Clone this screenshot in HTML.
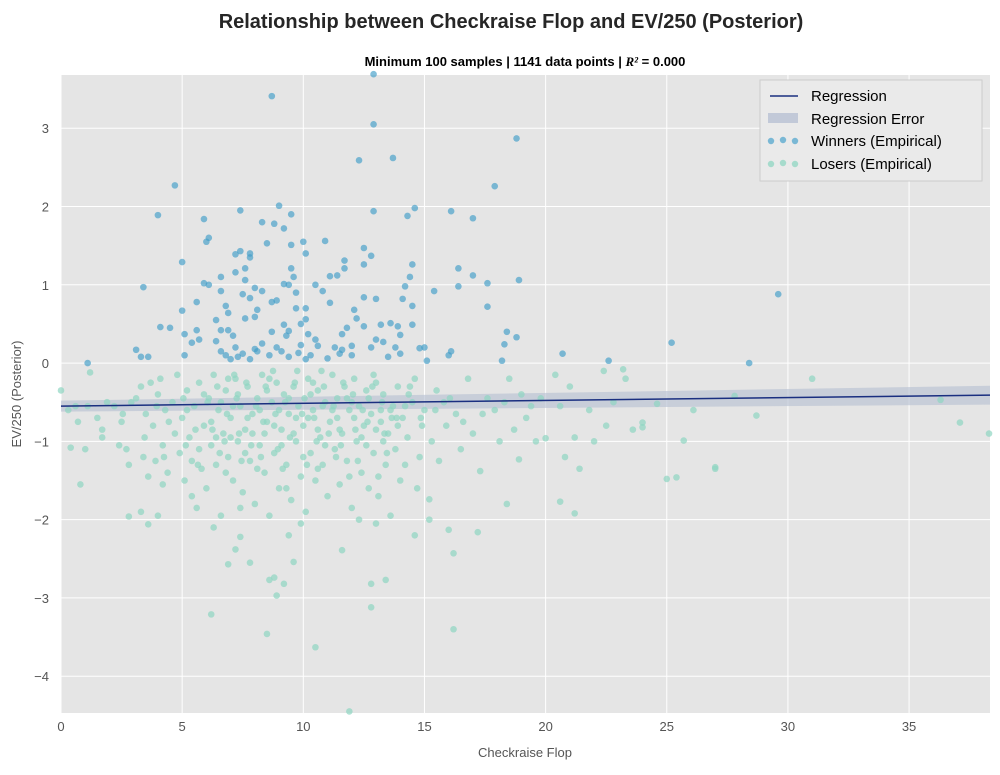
<!DOCTYPE html>
<html><head><meta charset="utf-8"><style>
body{margin:0;background:#fff;font-family:"Liberation Sans",sans-serif}
svg text{font-family:"Liberation Sans","DejaVu Sans",sans-serif}
</style></head><body>
<svg id="chart" width="1000" height="770" xmlns="http://www.w3.org/2000/svg">
<text x="511" y="28" text-anchor="middle" font-size="20" font-weight="bold" fill="#262626">Relationship between Checkraise Flop and EV/250 (Posterior)</text>
<text x="525" y="66" text-anchor="middle" font-size="13" font-weight="bold" fill="#000">Minimum 100 samples | 1141 data points | <tspan font-style="italic" font-family="Liberation Serif">R²</tspan>  =  0.000</text>
<rect x="61" y="75" width="929" height="638" fill="#e5e5e5"/>
<g id="grid"></g><g id="band"></g><g id="losers"></g><g id="winners"></g><g id="reg"></g><g id="ticks"></g>
<text x="525" y="757" text-anchor="middle" font-size="13" fill="#555">Checkraise Flop</text>
<text transform="translate(21,394) rotate(-90)" text-anchor="middle" font-size="13" fill="#555">EV/250 (Posterior)</text>
<g>
<rect x="760" y="80" width="222" height="101" fill="#eaeaea" stroke="#ccc"/>
<line x1="770" y1="96" x2="798" y2="96" stroke="#1a2f80" stroke-width="1.5"/>
<text x="811" y="101" font-size="15" fill="#000">Regression</text>
<rect x="768" y="113" width="30" height="10" fill="#b8c1d3" opacity="0.8"/>
<text x="811" y="124" font-size="15" fill="#000">Regression Error</text>
<circle cx="771" cy="141" r="3.2" fill="#4aa3cc" opacity="0.7"/><circle cx="783" cy="140" r="3.2" fill="#4aa3cc" opacity="0.7"/><circle cx="795" cy="141" r="3.2" fill="#4aa3cc" opacity="0.7"/>
<text x="811" y="146" font-size="15" fill="#000">Winners (Empirical)</text>
<circle cx="771" cy="164" r="3.2" fill="#8fd6c2" opacity="0.75"/><circle cx="783" cy="163" r="3.2" fill="#8fd6c2" opacity="0.75"/><circle cx="795" cy="164" r="3.2" fill="#8fd6c2" opacity="0.75"/>
<text x="811" y="169" font-size="15" fill="#000">Losers (Empirical)</text>
</g>
</svg>
<script>
const xTicks=[0,5,10,15,20,25,30,35];
const yTicks=[-4,-3,-2,-1,0,1,2,3];
const regStart=[0,-0.55], regEnd=[38.34,-0.41];
const bandHalfStart=0.07, bandHalfEnd=0.12;
const winX=[1.1,3.4,3.1,3.3,3.6,4.0,4.1,4.5,4.7,5.0,5.0,5.1,5.1,5.4,5.6,5.6,5.9,6.0,6.1,5.9,6.1,5.7,6.6,6.6,6.4,6.6,6.8,6.9,7.2,7.2,7.4,7.4,7.6,7.6,7.5,7.8,7.8,7.6,7.8,8.0,8.0,8.1,8.3,8.3,8.8,8.5,8.7,8.9,8.7,9.0,9.2,9.5,9.5,9.5,9.6,9.2,9.4,9.7,9.7,9.2,9.4,9.9,10.0,10.1,10.1,10.1,10.2,10.5,10.8,10.9,11.1,11.1,11.4,11.7,11.7,11.6,11.6,12.1,12.2,12.3,12.5,12.5,12.5,12.5,12.8,12.9,12.9,12.9,13.0,13.2,13.3,13.7,13.6,13.9,14.0,14.1,14.2,14.3,14.4,14.5,14.6,14.5,14.5,14.8,15.1,15.4,16.1,16.1,16.4,16.4,17.0,17.0,17.6,17.6,17.9,18.2,18.4,18.3,18.8,18.9,18.8,20.7,22.6,25.2,28.4,29.6,
6.6,6.8,7.0,7.2,7.5,7.8,8.0,8.3,8.6,8.9,9.1,9.4,9.8,10.3,10.6,11.0,11.3,12.0,12.8,13.5,14.0,6.4,7.1,8.7,9.9,10.5,11.8,13.0,12.0,9.3,8.1,7.3,6.9,10.1,11.5,15.0,13.8,16.0];
const winY=[0,0.97,0.17,0.08,0.08,1.89,0.46,0.45,2.27,1.29,0.67,0.37,0.1,0.26,0.78,0.42,1.84,1.55,1.6,1.02,1.0,0.3,1.1,0.92,0.55,0.42,0.73,0.64,1.39,1.16,1.95,1.43,1.21,1.06,0.88,1.4,1.35,0.57,0.83,0.59,0.96,0.68,0.92,1.8,1.78,1.53,3.41,0.8,0.78,2.01,1.72,1.9,1.51,1.21,1.1,1.01,1.0,0.9,0.7,0.49,0.41,0.23,1.55,1.4,0.7,0.56,0.37,1.0,0.92,1.56,1.11,0.77,1.12,1.21,1.31,0.37,0.17,0.68,0.57,2.59,1.26,1.47,0.84,0.47,1.37,3.69,3.05,1.94,0.82,0.49,0.27,2.62,0.51,0.47,0.36,0.82,0.98,1.88,1.1,1.26,1.98,0.73,0.49,0.19,0.03,0.92,1.94,0.15,1.21,0.98,1.85,1.12,1.02,0.72,2.26,0.03,0.4,0.24,2.87,1.06,0.33,0.12,0.03,0.26,0.0,0.88,
0.15,0.1,0.05,0.2,0.12,0.05,0.18,0.25,0.1,0.2,0.15,0.08,0.13,0.1,0.22,0.06,0.2,0.1,0.2,0.08,0.12,0.28,0.35,0.4,0.5,0.3,0.45,0.3,0.22,0.35,0.15,0.08,0.42,0.05,0.12,0.2,0.2,0.1];
const loseX=[0,0.4,0.8,1.2,2.8,3.3,3.6,4.0,4.2,6.2,6.3,6.9,7.2,7.4,7.8,8.5,8.8,8.6,8.9,9.2,9.4,9.6,10.5,11.6,11.9,12.8,12.8,13.4,13.0,16.2,16.2,17.2,14.6,15.2,15.2,16.0,18.4,20.6,21.2,21.4,20.8,20.0,19.6,22.0,22.5,21.8,21.2,21.0,20.4,22.4,23.2,23.3,22.8,23.6,24.0,24.0,24.6,25.0,25.4,25.7,26.1,27.0,27.0,27.8,28.7,31.0,36.3,37.1,38.3,20.6,19.2,18.9,19.0,18.5,17.9,17.6,17.3,18.1,17.0,16.8,16.5,16.3,15.6,15.9,15.5,15.0,14.7,14.4,14.2,
0.3,0.6,0.7,1.0,1.1,1.5,1.7,1.7,1.9,2.2,2.4,2.5,2.7,2.8,2.9,3.1,3.3,3.4,3.5,3.6,3.7,3.8,3.9,4.0,4.1,4.2,4.3,4.4,4.6,4.7,4.8,4.9,5.0,5.1,5.2,5.3,5.4,5.5,5.6,5.7,5.8,5.9,6.0,6.1,6.2,6.3,6.4,6.5,6.6,6.7,6.8,6.9,7.0,7.1,7.2,7.3,7.4,7.5,7.6,7.7,7.8,7.9,8.0,8.1,8.2,8.3,8.4,8.5,8.6,8.7,8.8,8.9,9.0,9.1,9.2,9.3,9.4,9.5,9.6,9.7,9.8,9.9,10.0,10.1,10.2,10.3,10.4,10.5,10.6,10.7,10.8,10.9,11.0,11.1,11.2,11.3,11.4,11.5,11.6,11.7,11.8,11.9,12.0,12.1,12.2,12.3,12.4,12.5,12.6,12.7,12.8,12.9,13.0,13.1,13.2,13.3,13.4,13.5,13.6,13.7,13.8,13.9,14.0,14.1,14.3,14.5,14.8,14.9,15.3,15.8,16.6,17.4,18.3,18.7,19.4,19.8,
5.2,5.7,6.2,6.6,7.0,7.3,7.6,7.9,8.2,8.5,8.8,9.1,9.4,9.7,10.0,10.3,10.6,10.9,11.2,11.5,11.8,12.1,12.4,12.7,13.0,13.3,13.6,13.9,14.2,6.4,7.1,7.7,8.4,9.0,9.6,10.2,10.8,11.4,12.0,12.6,13.2,5.9,6.8,8.1,9.3,10.6,11.9,13.1,7.4,9.9,12.3,5.4,6.9,8.6,10.4,12.9,14.6,
6.05,6.45,6.85,7.25,7.65,8.05,8.45,8.85,9.25,9.65,10.05,10.45,10.85,11.25,11.65,12.05,12.45,12.85,13.25,13.65,6.25,6.75,7.35,7.85,8.35,8.95,9.45,9.95,10.55,11.05,11.55,12.15,12.65,13.35,13.85,5.05,5.55,4.45,3.95,3.45,2.55,14.35,14.85,15.45,16.05,4.25,5.15,5.65,6.55,7.45,8.25,9.15,10.15,11.35,12.25,13.45,9.75,8.75,7.15,10.75];
const loseY=[-0.35,-1.08,-1.55,-0.12,-1.96,-1.9,-2.06,-1.95,-1.55,-3.21,-2.1,-2.57,-2.38,-2.22,-2.55,-3.46,-2.74,-2.77,-2.97,-2.82,-2.2,-2.54,-3.63,-2.39,-4.45,-2.82,-3.12,-2.77,-2.05,-3.4,-2.43,-2.16,-2.2,-1.74,-2.0,-2.13,-1.8,-1.77,-1.92,-1.35,-1.2,-0.96,-1.0,-1.0,-0.8,-0.6,-0.95,-0.3,-0.15,-0.1,-0.08,-0.2,-0.5,-0.85,-0.76,-0.82,-0.52,-1.48,-1.46,-0.99,-0.6,-1.33,-1.35,-0.42,-0.67,-0.2,-0.47,-0.76,-0.9,-0.55,-0.7,-1.23,-0.4,-0.2,-0.6,-0.45,-1.38,-1.0,-0.9,-0.2,-1.1,-0.65,-1.25,-0.8,-0.35,-0.6,-1.6,-0.3,-1.3,
-0.6,-0.55,-0.75,-1.1,-0.55,-0.7,-0.85,-0.95,-0.5,-0.55,-1.05,-0.75,-1.1,-1.3,-0.5,-0.45,-0.3,-1.2,-0.65,-1.45,-0.25,-0.8,-1.25,-0.4,-0.2,-1.05,-0.6,-1.4,-0.5,-0.9,-0.15,-1.15,-0.7,-1.5,-0.35,-0.95,-1.25,-0.55,-1.85,-0.25,-1.35,-0.8,-1.6,-0.45,-1.05,-0.15,-1.3,-0.6,-1.95,-0.9,-0.35,-1.2,-0.7,-1.5,-0.2,-1.0,-0.55,-1.65,-0.85,-0.3,-1.25,-0.65,-1.8,-0.45,-1.05,-0.15,-1.4,-0.75,-1.95,-0.5,-1.15,-0.25,-1.6,-0.85,-0.4,-1.3,-0.65,-1.75,-0.3,-1.0,-0.55,-1.45,-0.8,-1.9,-0.2,-1.15,-0.6,-1.5,-0.35,-0.95,-1.3,-0.5,-1.7,-0.75,-0.15,-1.1,-0.45,-1.55,-0.9,-0.3,-1.25,-0.6,-1.85,-0.2,-1.0,-0.55,-1.4,-0.8,-0.35,-1.6,-0.65,-1.15,-0.25,-1.45,-0.75,-0.4,-1.3,-0.9,-1.95,-0.55,-1.1,-0.3,-1.5,-0.7,-0.95,-0.5,-1.2,-0.8,-1.0,-0.5,-0.75,-0.65,-0.5,-0.85,-0.55,-0.45,
-0.6,-1.1,-0.75,-0.5,-0.95,-0.4,-1.15,-0.9,-0.6,-0.35,-0.8,-1.05,-0.45,-0.7,-1.2,-0.4,-0.85,-1.05,-0.6,-0.85,-0.45,-0.7,-0.95,-0.45,-0.85,-1.0,-0.6,-0.8,-0.55,-0.95,-0.55,-0.7,-0.9,-0.6,-0.9,-0.7,-0.55,-0.7,-0.5,-1.05,-0.6,-0.4,-1.4,-1.35,-1.6,-1.35,-1.45,-1.7,-1.85,-2.05,-2.0,-1.7,-0.2,-0.2,-0.25,-0.15,-0.2,
-0.5,-0.3,-0.65,-0.45,-0.25,-0.55,-0.3,-0.65,-0.5,-0.25,-0.45,-0.7,-0.3,-0.55,-0.25,-0.4,-0.6,-0.3,-0.5,-0.7,-0.85,-1.0,-0.9,-1.05,-0.75,-1.1,-0.95,-0.65,-1.0,-0.9,-1.05,-0.85,-0.75,-0.9,-0.7,-0.45,-0.85,-0.75,-0.55,-0.95,-0.65,-0.4,-0.7,-0.6,-0.45,-1.2,-1.05,-1.3,-1.15,-1.25,-1.2,-1.35,-1.3,-1.2,-1.25,-1.15,-0.1,-0.1,-0.15,-0.1];
const NS='http://www.w3.org/2000/svg';
const L=61,R=990,T=75,B=713,XMIN=0,XMAX=38.34,YMIN=-4.47,YMAX=3.68;
const sx=v=>L+(v-XMIN)/(XMAX-XMIN)*(R-L);
const sy=v=>B-(v-YMIN)/(YMAX-YMIN)*(B-T);
function mk(tag,parent,attrs){const e=document.createElementNS(NS,tag);for(const k in attrs)e.setAttribute(k,attrs[k]);document.getElementById(parent).appendChild(e);return e;}
xTicks.forEach(t=>{const g=mk('line','grid',{x1:sx(t),x2:sx(t),y1:T,y2:B,stroke:'#fff','stroke-width':1});


const tx=mk('text','ticks',{x:sx(t),y:B+18,'text-anchor':'middle','font-size':13,fill:'#555'});tx.textContent=t;

});
yTicks.forEach(t=>{const g=mk('line','grid',{x1:L,x2:R,y1:sy(t),y2:sy(t),stroke:'#fff','stroke-width':1});


const tx=mk('text','ticks',{x:L-12,y:sy(t)+5,'text-anchor':'end','font-size':13,fill:'#555'});tx.textContent=(t<0?'\u2212'+(-t):t);

});
const x0=regStart[0],y0=regStart[1],x1=regEnd[0],y1=regEnd[1];
const band=mk('polygon','band',{points:`${sx(x0)},${sy(y0+bandHalfStart)} ${sx(x1)},${sy(y1+bandHalfEnd)} ${sx(x1)},${sy(y1-bandHalfEnd)} ${sx(x0)},${sy(y0-bandHalfStart)}`,fill:'#b8c1d3',opacity:0.65});


const rl=mk('line','reg',{x1:sx(x0),y1:sy(y0),x2:sx(x1),y2:sy(y1),stroke:'#1a2f80','stroke-width':1.5});


loseX.forEach((x,i)=>{const c=mk('circle','losers',{cx:sx(x),cy:sy(loseY[i]),r:3.3,fill:'#8fd6c2','fill-opacity':0.7});

});
winX.forEach((x,i)=>{const c=mk('circle','winners',{cx:sx(x),cy:sy(winY[i]),r:3.3,fill:'#3f9dc8','fill-opacity':0.65});

});
</script>
</body></html>
